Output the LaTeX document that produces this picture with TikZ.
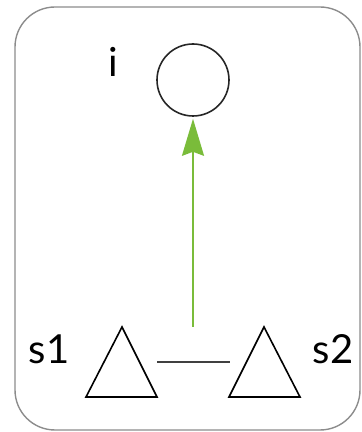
\documentclass[tikz,border=0pt]{standalone}
\usepackage{fontspec}
\setmainfont{Lato}
\usetikzlibrary{arrows.meta}
\definecolor{framegray}{RGB}{140,140,140}
\definecolor{arrowgreen}{RGB}{122,188,58}
\begin{document}
\begin{tikzpicture}[x=1pt,y=1pt,
  lbl/.style={font=\fontsize{40}{44}\selectfont, inner sep=0pt},
  tri/.style={draw=black, line width=1.6pt, line join=miter},
  link/.style={draw=black!75, line width=1.6pt}]
\useasboundingbox (0,0) rectangle (362,432);
% frame
\draw[framegray, line width=1.4pt, rounded corners=40pt] (15,2) rectangle (360,425);
% circle
\node[circle, draw=black!85, line width=1.6pt, minimum size=72pt, inner sep=0pt] (i) at (193,352) {};
\node[lbl, anchor=base] (il) at (113,355) {i};
% triangles
\coordinate (t1a) at (122,105);
\coordinate (t1l) at (86,35);
\coordinate (t1r) at (157,35);
\coordinate (t2a) at (264,105);
\coordinate (t2l) at (229,35);
\coordinate (t2r) at (300,35);
\draw[tri] (t1a) -- (t1l) -- (t1r) -- cycle;
\draw[tri] (t2a) -- (t2l) -- (t2r) -- cycle;
\coordinate (la) at (157,70);
\coordinate (lb) at (230,70);
\draw[link] (la) -- (lb);
\node[lbl, anchor=base] (s1) at (49,68) {s1};
\node[lbl, anchor=base] (s2) at (333,68) {s2};
% arrow
\coordinate (ab) at (193,105);
\draw[arrowgreen, line width=1.8pt, -{Stealth[length=37pt,width=22pt,inset=4pt]}] (ab) -- ([yshift=-2pt]i.south);
\end{tikzpicture}
\end{document}
